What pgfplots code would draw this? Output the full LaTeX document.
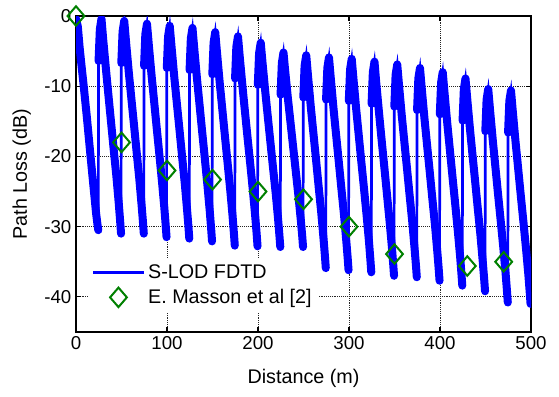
\documentclass[border=0pt]{standalone}
\usepackage{fontspec}
\setmainfont{Liberation Sans}
\usepackage{pgfplots}
\usepackage{pgfplotstable}
\pgfplotsset{compat=1.18}

\pgfplotstableread{
x y yt
0 -0.4 -0.4
2 -1.5 -1.5
4 -4.5 -4.5
6 -7 -7
8.5 -10 -10
12 -14.5 -14.5
16 -20 -20
19 -24 -24
22 -28 -28
23.5 -29.6 -29.6
24.5 -30.5 -30.5
24.65 -18.5 nan
24.8 -6.4 -6.4
26.2 -1.9 -1.9
28 -0.4 -0.4
30 -3.5 -3.5
33 -7.7 -7.7
35.5 -11.1 -11.1
38.5 -15.1 -15.1
41.5 -19.1 -19.1
44.5 -23.0 -23.0
47 -26.7 -26.7
48.5 -29.2 -29.2
49.5 -31.0 -31.0
49.65 -18.9 nan
49.8 -6.7 -6.7
51.2 -2.2 -2.2
53 -0.7 -0.7
55 -3.7 -3.7
58 -8.0 -8.0
60.5 -11.3 -11.3
63.5 -15.2 -15.2
66.5 -19.2 -19.2
69.5 -23.1 -23.1
72 -26.8 -26.8
73.5 -29.2 -29.2
74.5 -31.0 -31.0
74.65 -19.1 nan
74.8 -7.1 -7.1
76.2 -2.6 -2.6
78 -1.1 -1.1
80 -4.1 -4.1
83 -8.4 -8.4
85.5 -11.7 -11.7
88.5 -15.7 -15.7
91.5 -19.6 -19.6
94.5 -23.6 -23.6
97 -27.2 -27.2
98.5 -29.7 -29.7
99.5 -31.5 -31.5
99.65 -19.5 nan
99.8 -7.4 -7.4
101.2 -2.9 -2.9
103 -1.4 -1.4
105 -4.4 -4.4
108 -8.7 -8.7
110.5 -12.0 -12.0
113.5 -15.9 -15.9
116.5 -19.9 -19.9
119.5 -23.8 -23.8
122 -27.5 -27.5
123.5 -29.9 -29.9
124.5 -31.7 -31.7
124.65 -19.7 nan
124.8 -7.7 -7.7
126.2 -3.2 -3.2
128 -1.7 -1.7
130 -4.7 -4.7
133 -9.0 -9.0
135.5 -12.3 -12.3
138.5 -16.3 -16.3
141.5 -20.2 -20.2
144.5 -24.2 -24.2
147 -27.8 -27.8
148.5 -30.3 -30.3
149.5 -32.1 -32.1
149.65 -20.2 nan
149.8 -8.3 -8.3
151.2 -3.8 -3.8
153 -2.3 -2.3
155 -5.3 -5.3
158 -9.6 -9.6
160.5 -12.9 -12.9
163.5 -16.9 -16.9
166.5 -20.8 -20.8
169.5 -24.8 -24.8
172 -28.4 -28.4
173.5 -30.9 -30.9
174.5 -32.7 -32.7
174.65 -20.8 nan
174.8 -8.9 -8.9
176.2 -4.4 -4.4
178 -2.9 -2.9
180 -5.9 -5.9
183 -10.1 -10.1
185.5 -13.4 -13.4
188.5 -17.3 -17.3
191.5 -21.1 -21.1
194.5 -25.0 -25.0
197 -28.6 -28.6
198.5 -31.0 -31.0
199.5 -32.8 -32.8
199.65 -21.3 nan
199.8 -9.8 -9.8
201.2 -5.3 -5.3
203 -3.8 -3.8
205 -6.7 -6.7
208 -10.8 -10.8
210.5 -14.0 -14.0
213.5 -17.8 -17.8
216.5 -21.6 -21.6
219.5 -25.3 -25.3
222 -28.8 -28.8
223.5 -31.2 -31.2
224.5 -32.9 -32.9
224.65 -22.1 nan
224.8 -11.2 -11.2
226.2 -6.7 -6.7
228 -5.2 -5.2
230 -8.0 -8.0
233 -11.9 -11.9
235.5 -14.9 -14.9
238.5 -18.5 -18.5
241.5 -22.1 -22.1
244.5 -25.7 -25.7
247 -29.0 -29.0
248.5 -31.2 -31.2
249.5 -32.9 -32.9
249.65 -22.3 nan
249.8 -11.6 -11.6
251.2 -7.1 -7.1
253 -5.6 -5.6
255 -8.6 -8.6
258 -12.9 -12.9
260.5 -16.2 -16.2
263.5 -20.1 -20.1
266.5 -24.1 -24.1
269.5 -28.0 -28.0
272 -31.7 -31.7
273.5 -34.1 -34.1
274.5 -35.9 -35.9
274.65 -23.9 nan
274.8 -11.9 -11.9
276.2 -7.4 -7.4
278 -5.9 -5.9
280 -8.9 -8.9
283 -13.2 -13.2
285.5 -16.5 -16.5
288.5 -20.4 -20.4
291.5 -24.4 -24.4
294.5 -28.3 -28.3
297 -32.0 -32.0
298.5 -34.4 -34.4
299.5 -36.2 -36.2
299.65 -24.2 nan
299.8 -12.1 -12.1
301.2 -7.6 -7.6
303 -6.1 -6.1
305 -9.1 -9.1
308 -13.4 -13.4
310.5 -16.7 -16.7
313.5 -20.7 -20.7
316.5 -24.6 -24.6
319.5 -28.6 -28.6
322 -32.2 -32.2
323.5 -34.7 -34.7
324.5 -36.5 -36.5
324.65 -24.5 nan
324.8 -12.5 -12.5
326.2 -8.0 -8.0
328 -6.5 -6.5
330 -9.6 -9.6
333 -13.8 -13.8
335.5 -17.2 -17.2
338.5 -21.1 -21.1
341.5 -25.1 -25.1
344.5 -29.1 -29.1
347 -32.7 -32.7
348.5 -35.2 -35.2
349.5 -37.0 -37.0
349.65 -25.0 nan
349.8 -12.9 -12.9
351.2 -8.4 -8.4
353 -6.9 -6.9
355 -9.9 -9.9
358 -14.2 -14.2
360.5 -17.5 -17.5
363.5 -21.4 -21.4
366.5 -25.4 -25.4
369.5 -29.3 -29.3
372 -33.0 -33.0
373.5 -35.4 -35.4
374.5 -37.2 -37.2
374.65 -25.3 nan
374.8 -13.4 -13.4
376.2 -8.9 -8.9
378 -7.4 -7.4
380 -10.4 -10.4
383 -14.7 -14.7
385.5 -18.0 -18.0
388.5 -21.9 -21.9
391.5 -25.9 -25.9
394.5 -29.8 -29.8
397 -33.5 -33.5
398.5 -35.9 -35.9
399.5 -37.7 -37.7
399.65 -25.9 nan
399.8 -14.0 -14.0
401.2 -9.5 -9.5
403 -8.0 -8.0
405 -11.0 -11.0
408 -15.3 -15.3
410.5 -18.6 -18.6
413.5 -22.6 -22.6
416.5 -26.5 -26.5
419.5 -30.5 -30.5
422 -34.1 -34.1
423.5 -36.6 -36.6
424.5 -38.4 -38.4
424.65 -26.7 nan
424.8 -14.9 -14.9
426.2 -10.4 -10.4
428 -8.9 -8.9
430 -11.9 -11.9
433 -16.2 -16.2
435.5 -19.5 -19.5
438.5 -23.4 -23.4
441.5 -27.4 -27.4
444.5 -31.3 -31.3
447 -35.0 -35.0
448.5 -37.4 -37.4
449.5 -39.2 -39.2
449.65 -27.8 nan
449.8 -16.4 -16.4
451.2 -11.9 -11.9
453 -10.4 -10.4
455 -13.4 -13.4
458 -17.7 -17.7
460.5 -21.0 -21.0
463.5 -25.0 -25.0
466.5 -28.9 -28.9
469.5 -32.9 -32.9
472 -36.5 -36.5
473.5 -39.0 -39.0
474.5 -40.8 -40.8
474.65 -28.7 nan
474.8 -16.6 -16.6
476.2 -12.1 -12.1
478 -10.6 -10.6
480 -13.6 -13.6
483 -17.9 -17.9
485.5 -21.2 -21.2
488.5 -25.2 -25.2
491.5 -29.1 -29.1
494.5 -33.1 -33.1
497 -36.7 -36.7
498.5 -39.2 -39.2
499.5 -41.0 -41.0
}\fdtd

\pgfplotstableread{
x y
0 0
50 -18
100 -22
150 -23.3
200 -25
250 -26.1
300 -30
350 -33.9
430 -35.6
470 -35
}\masson

\definecolor{mgreen}{rgb}{0,0.5,0}

\begin{document}
\begin{tikzpicture}
\pgfplotsset{myleg/.style={legend image code/.code={\draw[mark repeat=2,mark phase=2,##1] plot coordinates {(0cm,0cm) (0.66cm,0cm) (1.32cm,0cm)};}}}
\begin{axis}[
  scale only axis, width=341.25pt, height=237pt,
  xmin=0, xmax=500, ymin=-45, ymax=0,
  xtick={0,100,...,500}, ytick={-40,-30,...,0},
  tick align=inside, major tick length=3.5pt,
  tick style={black, line width=0.8pt},
  grid=major, major grid style={densely dotted, black!85, line width=0.7pt},
  axis line style={line width=1.6pt},
  tick label style={font=\fontsize{14}{16}\selectfont},
  label style={font=\fontsize{14.8}{17}\selectfont},
  /pgf/number format/assume math mode=true,
  xlabel={Distance (m)}, ylabel={Path Loss (dB)},
  xlabel style={at={(axis description cs:0.5,-0.146)}, anchor=center},
  ylabel style={at={(axis description cs:-0.119,0.5)}, anchor=center},
  clip mode=individual,
  legend style={at={(axis description cs:0.026,0.064)}, anchor=south west,
    draw=none, fill=white, font=\fontsize{14.8}{17}\selectfont,
    nodes={inner sep=2.5pt}, row sep=1.5pt},
  legend cell align=left,
]
\addplot[blue, line width=2pt, myleg] table[x=x, y=y] {\fdtd};
\addlegendentry{S-LOD FDTD}
\addplot[blue, line width=6pt, line join=round, line cap=round, unbounded coords=jump, forget plot] table[x=x, y=yt] {\fdtd};
\addplot[only marks, mark=diamond, mark size=7.3pt, mgreen, mark options={xscale=1.15, line width=1.5pt, fill=none}, myleg] table[x=x, y=y] {\masson};
\addlegendentry{E. Masson et al [2]}
\end{axis}
\path ([shift={(-57pt,-48pt)}]current axis.south west) rectangle ([shift={(21pt,12pt)}]current axis.north east);
\end{tikzpicture}
\end{document}
